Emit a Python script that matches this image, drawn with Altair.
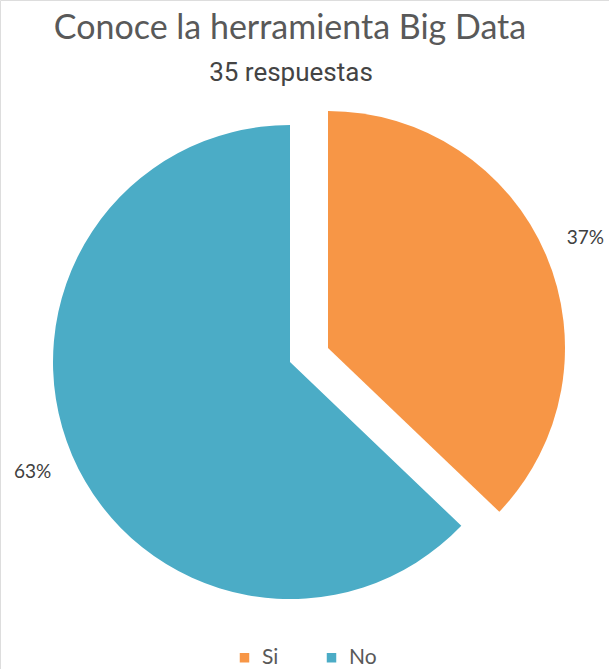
import altair as alt
import pandas as pd

categories = ["Si", "No"]
counts = [13, 22]
percent_labels = ["37%", "63%"]
colors = ["#F79646", "#4BACC6"]
title_text = "Conoce la herramienta Big Data"
subtitle_text = "35 respuestas"

total = sum(counts)
df = pd.DataFrame({"cat": categories, "n": counts, "pct": percent_labels})
df["end"] = df["n"].cumsum()
df["start"] = df["end"] - df["n"]
df["mid"] = (df["start"] + df["end"]) / 2

theta_scale = alt.Scale(domain=[0, total], range=[0, 6.283185307])
color_scale = alt.Scale(domain=categories, range=colors)

legend = alt.Legend(
    title=None,
    orient="none",
    legendX=234,
    legendY=647,
    direction="horizontal",
    symbolType="square",
    symbolSize=90,
    symbolStrokeWidth=0,
    labelFontSize=21,
    labelFont="Lato",
    labelColor="#595959",
    columnPadding=42,
    labelOffset=7,
)

base = alt.Chart(df)

def slice_layer(cat, cx, cy):
    sub = base.transform_filter(alt.datum.cat == cat)
    arc = sub.mark_arc(outerRadius=237).encode(
        theta=alt.Theta("start:Q", scale=theta_scale),
        theta2="end:Q",
        color=alt.Color("cat:N", scale=color_scale, legend=legend),
        x=alt.value(cx),
        y=alt.value(cy),
    )
    txt = sub.mark_text(radius=280, fontSize=19, font="Lato", color="#404040").encode(
        theta=alt.Theta("mid:Q", scale=theta_scale),
        text="pct:N",
        x=alt.value(cx),
        y=alt.value(cy),
    )
    return arc, txt

si_arc, si_txt = slice_layer("Si", 328, 348)
no_arc, no_txt = slice_layer("No", 290, 362)

title = alt.Chart(pd.DataFrame({"t": [title_text]})).mark_text(
    fontSize=34, font="Lato", color="#595959", align="center", baseline="middle"
).encode(text="t:N", x=alt.value(290), y=alt.value(29))

subtitle = alt.Chart(pd.DataFrame({"t": [subtitle_text]})).mark_text(
    fontSize=26, font="Roboto", color="#444444", align="center", baseline="middle"
).encode(text="t:N", x=alt.value(291), y=alt.value(73))

chart = alt.layer(no_arc, si_arc, no_txt, si_txt, title, subtitle).properties(
    width=609, height=669, padding=0, autosize=alt.AutoSizeParams(type="none")
).configure_view(strokeWidth=0, stroke="transparent").configure(background="white")

chart.save("out.html", embed_options={"renderer": "svg", "actions": False})
